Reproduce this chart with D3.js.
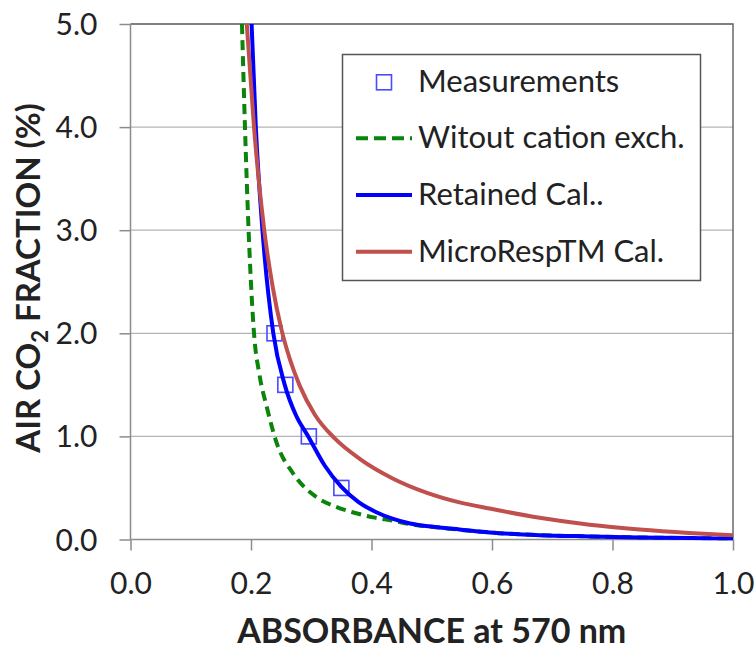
<!DOCTYPE html>
<meta charset="utf-8">
<head>
  <title>CO2 calibration</title>
</head>
<style>
body { margin: 0; background: #fff; }
text { font-family: Lato, "Open Sans", sans-serif; fill: #222; }
</style>
<body>
<script src="https://d3js.org/d3.v7.min.js"></script>
<script>

// ---- data ----
var xTicks = [0.0, 0.2, 0.4, 0.6, 0.8, 1.0];
var yTicks = [0.0, 1.0, 2.0, 3.0, 4.0, 5.0];

// measurements (absorbance, CO2 %)
var measX = [0.239, 0.257, 0.296, 0.350];
var measY = [2.0, 1.5, 1.0, 0.5];

// without cation exchange (green dashed)
var greenX = [0.185, 0.190, 0.196, 0.205, 0.214, 0.226, 0.243, 0.270, 0.309, 0.340, 0.370, 0.403, 0.436, 0.464, 0.513, 0.596, 0.679, 0.762, 0.845, 0.930, 1.000];
var greenY = [5.0, 4.0, 3.0, 2.0, 1.6, 1.29, 0.93, 0.64, 0.41, 0.32, 0.262, 0.215, 0.182, 0.150, 0.116, 0.068, 0.042, 0.030, 0.020, 0.014, 0.008];

// retained calibration (blue)
var blueX = [0.201, 0.208, 0.219, 0.237, 0.256, 0.275, 0.295, 0.322, 0.350, 0.378, 0.408, 0.436, 0.464, 0.513, 0.546, 0.596, 0.679, 0.762, 0.845, 0.930, 1.000];
var blueY = [5.0, 4.0, 3.0, 2.0, 1.5, 1.20, 1.0, 0.72, 0.51, 0.365, 0.265, 0.20, 0.155, 0.116, 0.097, 0.068, 0.042, 0.030, 0.020, 0.014, 0.008];

// MicroResp calibration (red)
var redX = [0.193, 0.205, 0.222, 0.236, 0.250, 0.265, 0.281, 0.306, 0.339, 0.381, 0.436, 0.491, 0.546, 0.596, 0.679, 0.762, 0.845, 0.927, 1.000];
var redY = [5.0, 4.0, 3.0, 2.45, 2.05, 1.74, 1.49, 1.21, 0.98, 0.78, 0.59, 0.455, 0.36, 0.30, 0.21, 0.143, 0.097, 0.064, 0.042];

var legendNames = ["Measurements", "Witout cation exch.", "Retained Cal..", "MicroRespTM Cal."];

function zip(xs, ys) { return xs.map(function(x, i) { return {x: x, y: ys[i]}; }); }

var svg = d3.select("body")
    .append("svg")
    .attr("width", 756)
    .attr("height", 649);

var x = d3.scaleLinear().domain([0, 1]).range([130.5, 733]);
var y = d3.scaleLinear().domain([0, 5]).range([539.5, 24]);

// gridlines
svg.append("g")
   .selectAll("line")
   .data(yTicks.slice(1))
   .enter()
   .append("line")
   .attr("x1", x(0)).attr("x2", x(1))
   .attr("y1", function(d) { return y(d); })
   .attr("y2", function(d) { return y(d); })
   .attr("stroke", "#b4b4b4")
   .attr("stroke-width", 1.3);

// plot border (top/right darker)
svg.append("path")
   .attr("d", "M" + x(0) + "," + y(5) + "H" + x(1) + "V" + y(0))
   .attr("fill", "none")
   .attr("stroke", "#6a6a6a")
   .attr("stroke-width", 1.5);

// axes
var yAxis = d3.axisLeft(y).tickValues(yTicks).tickSize(11).tickFormat(d3.format(".1f"));
var xAxis = d3.axisBottom(x).tickValues(xTicks).tickSize(11).tickFormat(d3.format(".1f"));

var gy = svg.append("g").attr("transform", "translate(" + x(0) + ",0)").call(yAxis);
var gx = svg.append("g").attr("transform", "translate(0," + y(0) + ")").call(xAxis);

[gx, gy].forEach(function(g) {
  g.select(".domain").attr("stroke", "#8c8c8c").attr("stroke-width", 1.5);
  g.selectAll(".tick line").attr("stroke", "#8c8c8c").attr("stroke-width", 1.5);
  g.selectAll(".tick text")
   .attr("fill", "#222")
   .style("font-size", "30px")
   .style("font-family", "Lato, sans-serif");
});
gy.select(".domain").attr("d", "M0," + y(5) + "V" + y(0));
gx.select(".domain").attr("d", "M" + x(0) + ",0H" + x(1));
gy.selectAll(".tick text").attr("x", -33).attr("dy", "0.35em");
gx.selectAll(".tick text").attr("y", 0).attr("dy", 0).attr("transform", "translate(0,54)");

// curves
var line = d3.line()
    .x(function(d) { return x(d.x); })
    .y(function(d) { return y(d.y); })
    .curve(d3.curveMonotoneX);

svg.append("clipPath").attr("id", "plotclip")
   .append("rect")
   .attr("x", x(0)).attr("y", y(5) - 1)
   .attr("width", x(1) - x(0) + 2).attr("height", y(0) - y(5) + 2);

var plot = svg.append("g").attr("clip-path", "url(#plotclip)");

plot.append("g")
   .selectAll("rect")
   .data(zip(measX, measY))
   .enter()
   .append("rect")
   .attr("x", function(d) { return x(d.x) - 7.5; })
   .attr("y", function(d) { return y(d.y) - 7.5; })
   .attr("width", 15).attr("height", 15)
   .attr("fill", "none")
   .attr("stroke", "#4a4aff")
   .attr("stroke-width", 1.6);

plot.append("path")
   .attr("d", line(zip(greenX, greenY)))
   .attr("fill", "none")
   .attr("stroke", "#0a840a")
   .attr("stroke-width", 4)
   .attr("stroke-dasharray", "10,6");

plot.append("path")
   .attr("d", line(zip(blueX, blueY)))
   .attr("fill", "none")
   .attr("stroke", "#0000ff")
   .attr("stroke-width", 4);

plot.append("path")
   .attr("d", line(zip(redX, redY)))
   .attr("fill", "none")
   .attr("stroke", "#c0504d")
   .attr("stroke-width", 4);

// axis titles
svg.append("text")
   .attr("x", (x(0) + x(1)) / 2)
   .attr("y", 643)
   .attr("text-anchor", "middle")
   .style("font-size", "34px")
   .style("font-weight", "bold")
   .attr("fill", "#111")
   .text("ABSORBANCE at 570 nm");

var yt = svg.append("text")
   .attr("transform", "translate(40,278) rotate(-90)")
   .attr("text-anchor", "middle")
   .style("font-size", "33px")
   .style("font-weight", "bold")
   .attr("fill", "#111");
yt.append("tspan").text("AIR CO");
yt.append("tspan").attr("dy", 8).style("font-size", "22px").text("2");
yt.append("tspan").attr("dy", -8).text(" FRACTION (%)");

// legend
var lg = svg.append("g");
lg.append("rect")
  .attr("x", 342.5).attr("y", 54.5)
  .attr("width", 358).attr("height", 226)
  .attr("fill", "#fff")
  .attr("stroke", "#555")
  .attr("stroke-width", 1.5);

var rowY = [82.3, 138.3, 195, 251.7];
lg.selectAll("text")
  .data(legendNames)
  .enter()
  .append("text")
  .attr("x", 418)
  .attr("y", function(d, i) { return rowY[i] + 10; })
  .style("font-size", "31px")
  .attr("fill", "#111")
  .text(function(d) { return d; });

lg.append("rect")
  .attr("x", 384 - 7.5).attr("y", rowY[0] - 7.5)
  .attr("width", 15).attr("height", 15)
  .attr("fill", "none").attr("stroke", "#4a4aff").attr("stroke-width", 1.6);
lg.append("line")
  .attr("x1", 356).attr("x2", 412).attr("y1", rowY[1]).attr("y2", rowY[1])
  .attr("stroke", "#0a840a").attr("stroke-width", 4).attr("stroke-dasharray", "12,6");
lg.append("line")
  .attr("x1", 356).attr("x2", 412).attr("y1", rowY[2]).attr("y2", rowY[2])
  .attr("stroke", "#0000ff").attr("stroke-width", 4);
lg.append("line")
  .attr("x1", 356).attr("x2", 412).attr("y1", rowY[3]).attr("y2", rowY[3])
  .attr("stroke", "#c0504d").attr("stroke-width", 4);

</script>
</body>
